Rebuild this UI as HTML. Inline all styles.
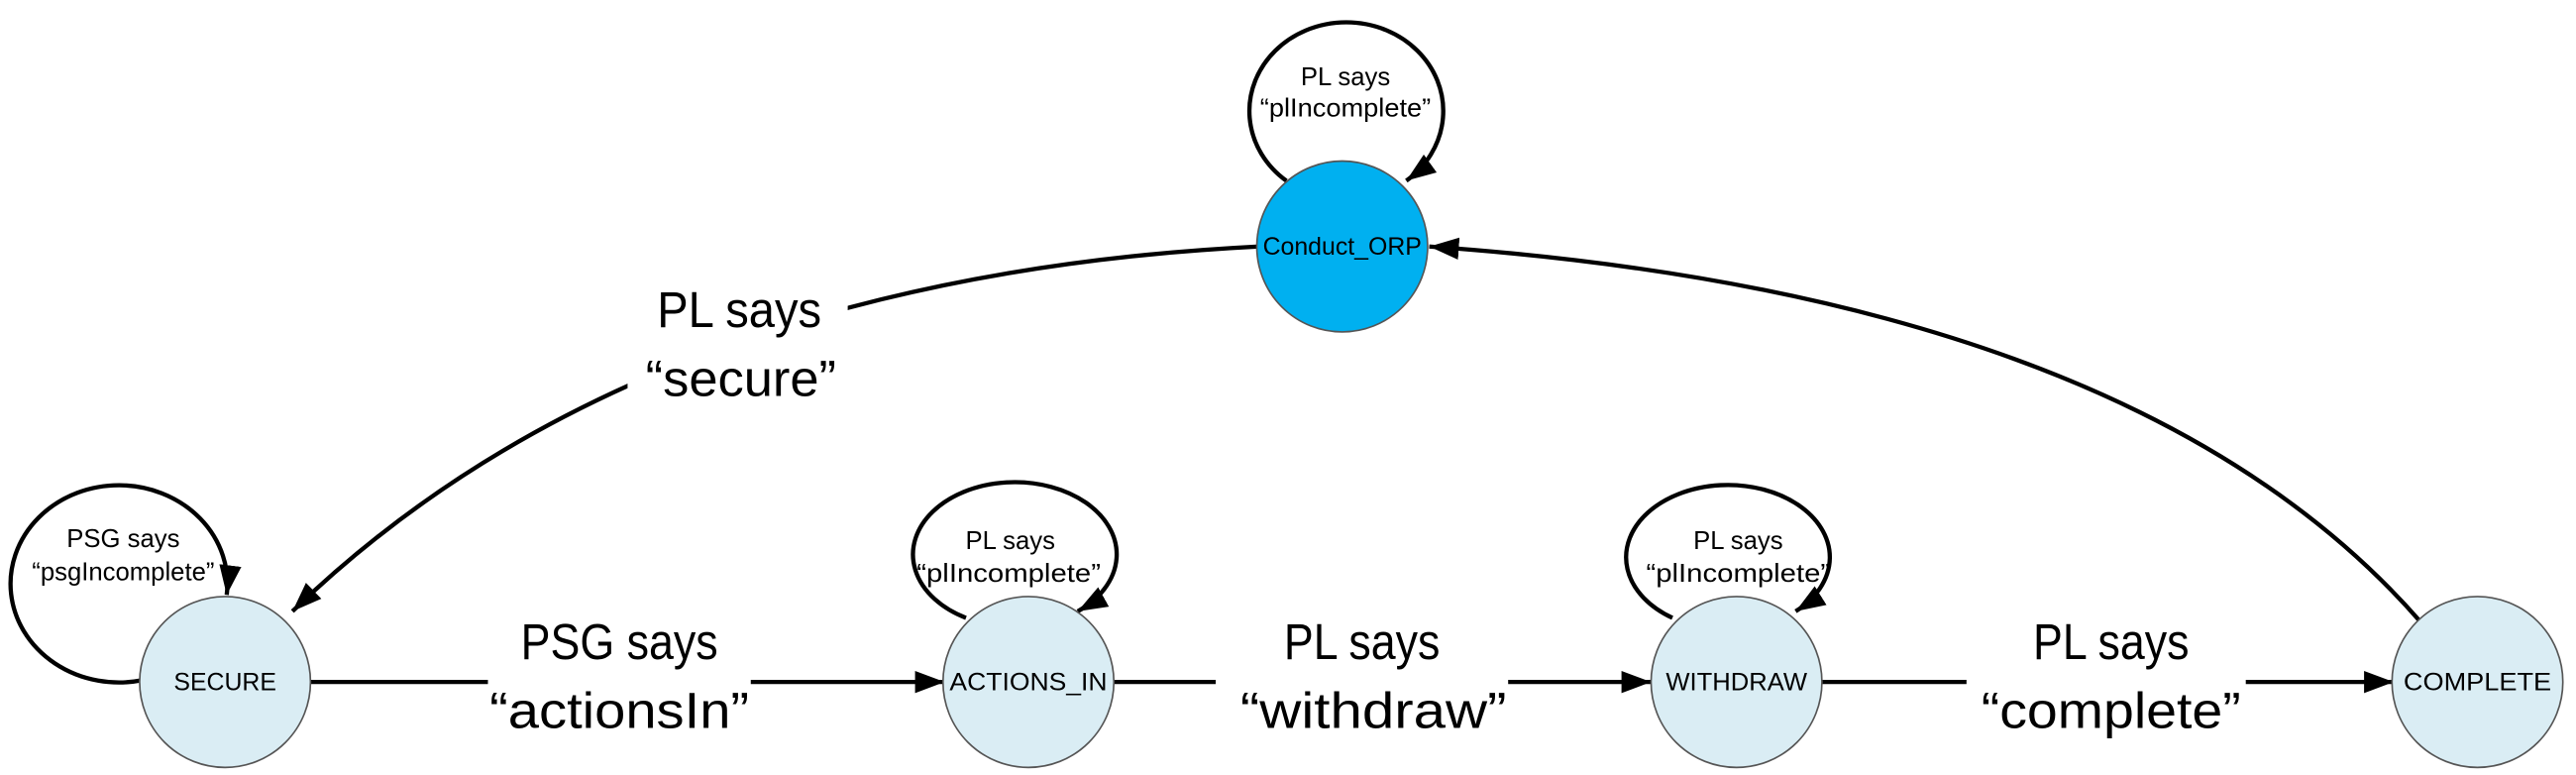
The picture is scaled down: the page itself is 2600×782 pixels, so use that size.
<!DOCTYPE html>
<html><head><meta charset="utf-8"><style>
html,body{margin:0;padding:0;background:#fff;}
svg{display:block;}
text{font-family:"Liberation Sans",sans-serif;fill:#000;text-anchor:middle;}
.big{font-size:31px;}
.sm{font-size:15.5px;}
.nd{font-size:15px;}
</style></head><body>
<svg width="2600" height="782" viewBox="0 0 1568 471.6" xmlns="http://www.w3.org/2000/svg">
<defs>
<marker id="ar" viewBox="0 0 16 12" refX="16" refY="6" markerWidth="18" markerHeight="14" orient="auto" markerUnits="userSpaceOnUse">
<path d="M0,0 L16,6 L0,12 z" fill="#000"/>
</marker>
</defs>
<g fill="none" stroke="#000" stroke-width="2.6">
<line x1="189" y1="415" x2="297" y2="415"/>
<line x1="457" y1="415" x2="575" y2="415" marker-end="url(#ar)"/>
<line x1="678" y1="415" x2="740" y2="415"/>
<line x1="918" y1="415" x2="1005" y2="415" marker-end="url(#ar)"/>
<line x1="1109" y1="415" x2="1197" y2="415"/>
<line x1="1367" y1="415" x2="1457" y2="415" marker-end="url(#ar)"/>
<path d="M766,150 Q388,169 178,372" marker-end="url(#ar)"/>
<path d="M1473,378 Q1300,180 870,150" marker-end="url(#ar)"/>
<path d="M86,414 A66,60 0 1 1 138,362" marker-end="url(#ar)"/>
<path d="M588,376 A62,44 0 1 1 656,372" marker-end="url(#ar)"/>
<path d="M1018,376 A62,44 0 1 1 1093,372" marker-end="url(#ar)"/>
<path d="M783,110 A59,54 0 1 1 856,110" marker-end="url(#ar)"/>
</g>
<rect x="382" y="170" width="134" height="76" fill="#fff"/>
<g stroke="#555" stroke-width="1">
<circle cx="137" cy="415" r="52" fill="#daedf4"/>
<circle cx="626" cy="415" r="52" fill="#daedf4"/>
<circle cx="1057" cy="415" r="52" fill="#daedf4"/>
<circle cx="1508" cy="415" r="52" fill="#daedf4"/>
<circle cx="817" cy="150" r="52" fill="#00b0f0"/>
</g>
<text class="nd" x="137" y="420">SECURE</text>
<text class="nd" x="626" y="420" textLength="96" lengthAdjust="spacingAndGlyphs">ACTIONS_IN</text>
<text class="nd" x="1057" y="420" textLength="86" lengthAdjust="spacingAndGlyphs">WITHDRAW</text>
<text class="nd" x="1508" y="420" textLength="90" lengthAdjust="spacingAndGlyphs">COMPLETE</text>
<text class="nd" x="817" y="155">Conduct_ORP</text>
<text class="big" x="377" y="401" textLength="120" lengthAdjust="spacingAndGlyphs">PSG says</text>
<text class="big" x="377" y="443" textLength="158" lengthAdjust="spacingAndGlyphs">“actionsIn”</text>
<text class="big" x="829" y="401" textLength="95" lengthAdjust="spacingAndGlyphs">PL says</text>
<text class="big" x="836" y="443" textLength="162" lengthAdjust="spacingAndGlyphs">“withdraw”</text>
<text class="big" x="1285" y="401" textLength="95" lengthAdjust="spacingAndGlyphs">PL says</text>
<text class="big" x="1285" y="443" textLength="158" lengthAdjust="spacingAndGlyphs">“complete”</text>
<text class="big" x="450" y="199" textLength="100" lengthAdjust="spacingAndGlyphs">PL says</text>
<text class="big" x="451" y="241" textLength="116" lengthAdjust="spacingAndGlyphs">“secure”</text>
<text class="sm" x="75" y="333">PSG says</text>
<text class="sm" x="75" y="353">“psgIncomplete”</text>
<text class="sm" x="615" y="334">PL says</text>
<text class="sm" x="614" y="354" textLength="112" lengthAdjust="spacingAndGlyphs">“plIncomplete”</text>
<text class="sm" x="1058" y="334">PL says</text>
<text class="sm" x="1058" y="354" textLength="112" lengthAdjust="spacingAndGlyphs">“plIncomplete”</text>
<text class="sm" x="819" y="52">PL says</text>
<text class="sm" x="819" y="71" textLength="104" lengthAdjust="spacingAndGlyphs">“plIncomplete”</text>
</svg>
</body></html>
